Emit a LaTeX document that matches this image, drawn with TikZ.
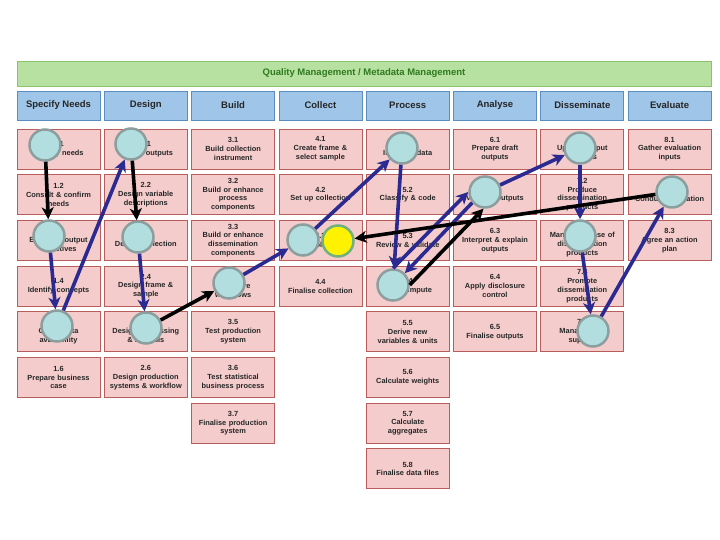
\documentclass[tikz,border=0pt]{standalone}
\usepackage{fontspec}
\setmainfont{Liberation Sans}
\usetikzlibrary{positioning}
\usetikzlibrary{arrows.meta}
\definecolor{barfill}{HTML}{B7E1A1}
\definecolor{barline}{HTML}{8CC46E}
\definecolor{bartext}{HTML}{2F7A1F}
\definecolor{phasefill}{HTML}{9FC5E8}
\definecolor{phaseline}{HTML}{5B8DBF}
\definecolor{stepfill}{HTML}{F4CCCC}
\definecolor{stepline}{HTML}{B85C5C}
\definecolor{visitfill}{HTML}{B2DEDF}
\definecolor{visitline}{HTML}{8C9E9E}
\definecolor{flowblue}{HTML}{2A2A90}
\tikzset{
	>={Stealth[length=12pt,width=12pt,inset=3.5pt]},
	qualbar/.style={
		rectangle,
		fill=barfill,
		draw=barline, thick,
		minimum width=694pt,
		minimum height=25pt,
		text=bartext,
		font=\fontsize{9.5}{11}\selectfont\bfseries},
	phase/.style={
		rectangle,
		fill=phasefill,
		draw=phaseline, thick,
		minimum width=83pt,
		minimum height=29pt,
		text=black!85,
		font=\fontsize{9.5}{11}\selectfont\bfseries},
	substep/.style={
		rectangle,
		fill=stepfill,
		draw=stepline, thick,
		minimum width=83pt,
		minimum height=40pt,
		text width=80pt,
		inner sep=1pt,
		align=center,
		text=black!85,
		font=\fontsize{7.4}{8.8}\selectfont\bfseries},
	visit/.style={circle, fill=visitfill, draw=visitline, line width=2.5pt, minimum size=31pt, inner sep=0pt},
	current/.style={visit, fill=yellow, draw=visitline!80!green},
	flow/.style={draw=flowblue, line width=3.6pt, ->},
	jump/.style={draw=black, line width=3.6pt, ->},
}
\begin{document}
\begin{tikzpicture}[x=1pt,y=1pt,node distance=4.9pt]
	\useasboundingbox (0,0) rectangle (720,540);
	\node[qualbar] (quality) at (364,466.5) {Quality Management / Metadata Management};
	% phases
	\node[phase] (specify) at (58.5,434.5) {Specify Needs};
	\node[phase] (design) at (145.8,434.5) {Design};
	\node[phase] (build) at (233.1,434.5) {Build};
	\node[phase] (collect) at (320.4,434.5) {Collect};
	\node[phase] (process) at (407.7,434.5) {Process};
	\node[phase] (analyse) at (495,434.5) {Analyse};
	\node[phase] (disseminate) at (582.3,434.5) {Disseminate};
	\node[phase] (evaluate) at (669.6,434.5) {Evaluate};
	% specify needs
	\node[substep, below=8.2pt of specify] (s11) {1.1\\Identify needs};
	\node[substep, below=of s11] (s12) {1.2\\Consult \& confirm\\needs};
	\node[substep, below=of s12] (s13) {1.3\\Establish output\\objectives};
	\node[substep, below=of s13] (s14) {1.4\\Identify concepts};
	\node[substep, below=of s14] (s15) {1.5\\Check data\\availability};
	\node[substep, below=of s15] (s16) {1.6\\Prepare business\\case};
	% design
	\node[substep, below=8.2pt of design] (s21) {2.1\\Design outputs};
	\node[substep, below=of s21] (s22) {2.2\\Design variable\\descriptions};
	\node[substep, below=of s22] (s23) {2.3\\Design collection};
	\node[substep, below=of s23] (s24) {2.4\\Design frame \&\\sample};
	\node[substep, below=of s24] (s25) {2.5\\Design processing\\\& analysis};
	\node[substep, below=of s25] (s26) {2.6\\Design production\\systems \& workflow};
	% build
	\node[substep, below=8.2pt of build] (s31) {3.1\\Build collection\\instrument};
	\node[substep, below=of s31] (s32) {3.2\\Build or enhance\\process\\components};
	\node[substep, below=of s32] (s33) {3.3\\Build or enhance\\dissemination\\components};
	\node[substep, below=of s33] (s34) {3.4\\Configure\\workflows};
	\node[substep, below=of s34] (s35) {3.5\\Test production\\system};
	\node[substep, below=of s35] (s36) {3.6\\Test statistical\\business process};
	\node[substep, below=of s36] (s37) {3.7\\Finalise production\\system};
	% collect
	\node[substep, below=8.2pt of collect] (s41) {4.1\\Create frame \&\\select sample};
	\node[substep, below=of s41] (s42) {4.2\\Set up collection};
	\node[substep, below=of s42] (s43) {4.3\\Run collection};
	\node[substep, below=of s43] (s44) {4.4\\Finalise collection};
	% process
	\node[substep, below=8.2pt of process] (s51) {5.1\\Integrate data};
	\node[substep, below=of s51] (s52) {5.2\\Classify \& code};
	\node[substep, below=of s52] (s53) {5.3\\Review \& validate};
	\node[substep, below=of s53] (s54) {5.4\\Edit \& impute};
	\node[substep, below=of s54] (s55) {5.5\\Derive new\\variables \& units};
	\node[substep, below=of s55] (s56) {5.6\\Calculate weights};
	\node[substep, below=of s56] (s57) {5.7\\Calculate\\aggregates};
	\node[substep, below=of s57] (s58) {5.8\\Finalise data files};
	% analyse
	\node[substep, below=8.2pt of analyse] (s61) {6.1\\Prepare draft\\outputs};
	\node[substep, below=of s61] (s62) {6.2\\Validate outputs};
	\node[substep, below=of s62] (s63) {6.3\\Interpret \& explain\\outputs};
	\node[substep, below=of s63] (s64) {6.4\\Apply disclosure\\control};
	\node[substep, below=of s64] (s65) {6.5\\Finalise outputs};
	% disseminate
	\node[substep, below=8.2pt of disseminate] (s71) {7.1\\Update output\\systems};
	\node[substep, below=of s71] (s72) {7.2\\Produce\\dissemination\\products};
	\node[substep, below=of s72] (s73) {7.3\\Manage release of\\dissemination\\products};
	\node[substep, below=of s73] (s74) {7.4\\Promote\\dissemination\\products};
	\node[substep, below=of s74] (s75) {7.5\\Manage user\\support};
	% evaluate
	\node[substep, below=8.2pt of evaluate] (s81) {8.1\\Gather evaluation\\inputs};
	\node[substep, below=of s81] (s82) {8.2\\Conduct evaluation};
	\node[substep, below=of s82] (s83) {8.3\\Agree an action\\plan};
	% visited steps
	\node[visit] (c11) at (45,395) {};
	\node[visit] (c21) at (131,396) {};
	\node[visit] (c13) at (49,304) {};
	\node[visit] (c23) at (138,303) {};
	\node[visit] (c15) at (57,214) {};
	\node[visit] (c25) at (146,212) {};
	\node[visit] (c34) at (229,257) {};
	\node[visit] (c43) at (303,300) {};
	\node[current] (run) at (338,299) {};
	\node[visit] (c51) at (402,392) {};
	\node[visit] (c54) at (393,255) {};
	\node[visit] (c62) at (485,348) {};
	\node[visit] (c71) at (580,392) {};
	\node[visit] (c73) at (580,304) {};
	\node[visit] (c75) at (593,209) {};
	\node[visit] (c82) at (672,348) {};
	% path
	\draw[jump] (c11) -- (c13);
	\draw[jump] (c21) -- (c23);
	\draw[flow] (c13) -- (c15);
	\draw[flow] (c15) -- (c21);
	\draw[flow] (c23) -- (c25);
	\draw[jump] (c25) -- (c34);
	\draw[flow] (c34) -- (c43);
	\draw[flow] (c43) -- (c51);
	\draw[flow] (c51) -- (c54);
	\draw[flow] (c54.north) -- (c62.west);
	\draw[flow] (c62.220) -- (c54.45);
	\draw[jump] (c54.east) -- (c62.265);
	\draw[flow] (c62) -- (c71);
	\draw[flow] (c71) -- (c73);
	\draw[flow] (c73) -- (c75);
	\draw[flow] (c75) -- (c82);
	\draw[jump] (c82) -- (run);
\end{tikzpicture}
\end{document}
